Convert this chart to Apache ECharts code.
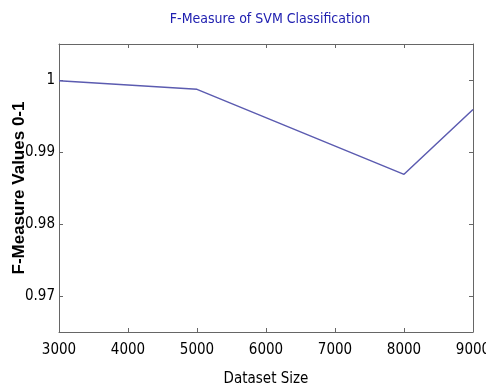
<!DOCTYPE html>
<html>
<head>
<meta charset="utf-8">
<script src="https://cdn.jsdelivr.net/npm/echarts@6/dist/echarts.min.js"></script>
<style>
    html, body { margin: 0; padding: 0; background: #fff; }
    #chart { width: 486px; height: 391px; }
</style>
</head>
<body>
<div id="chart"></div>
<script>
// values
var datasetSize = [3000, 5000, 8000, 9000];
var fMeasure = [0.9999, 0.9987, 0.9869, 0.9959];
var yTicks = [0.97, 0.98, 0.99, 1];

var narrow = '"Liberation Sans Narrow", "DejaVu Sans Condensed", "Arial Narrow", sans-serif';

function draw() {
    var myChart = echarts.init(document.getElementById('chart'));

    var boxLine = { show: true, lineStyle: { color: '#666', width: 1 } };
    var inTick = { show: true, inside: true, length: 4, lineStyle: { color: '#666' } };

    var option = {
        animation: false,
        title: {
            text: 'F-Measure of SVM Classification',
            left: 265,
            top: 7,
            textAlign: 'center',
            textStyle: {
                color: '#2020b0',
                fontFamily: narrow,
                fontSize: 14,
                fontWeight: 'normal'
            }
        },
        grid: { left: 59, right: 13, top: 44, bottom: 59, outerBoundsMode: 'none', containLabel: false },
        xAxis: [
            {
                type: 'value',
                position: 'bottom',
                min: 3000,
                max: 9000,
                interval: 1000,
                name: 'Dataset Size',
                nameLocation: 'middle',
                nameGap: 40,
                nameTextStyle: { color: '#000', fontFamily: narrow, fontSize: 15 },
                axisLine: boxLine,
                axisTick: inTick,
                splitLine: { show: false },
                axisLabel: {
                    color: '#000', fontFamily: narrow, fontSize: 15, margin: 11,
                    formatter: function (v) { return String(v); }
                }
            },
            {
                type: 'value',
                position: 'top',
                min: 3000,
                max: 9000,
                interval: 1000,
                axisLine: boxLine,
                axisTick: inTick,
                splitLine: { show: false },
                axisLabel: { show: false }
            }
        ],
        yAxis: [
            {
                type: 'value',
                position: 'left',
                min: 0.965,
                max: 1.005,
                name: 'F-Measure Values 0-1',
                nameLocation: 'middle',
                nameGap: 31,
                nameMoveOverlap: false,
                nameTextStyle: {
                    color: '#000',
                    fontFamily: '"Liberation Sans", Arial, sans-serif',
                    fontSize: 17,
                    fontWeight: 'bold'
                },
                axisLine: boxLine,
                axisTick: Object.assign({}, inTick, { customValues: yTicks }),
                splitLine: { show: false },
                axisLabel: {
                    color: '#000', fontFamily: narrow, fontSize: 15, margin: 4,
                    customValues: yTicks,
                    formatter: function (v) { return String(+v.toFixed(2)); }
                }
            },
            {
                type: 'value',
                position: 'right',
                min: 0.965,
                max: 1.005,
                axisLine: boxLine,
                axisTick: Object.assign({}, inTick, { customValues: yTicks }),
                splitLine: { show: false },
                axisLabel: { show: false, customValues: yTicks }
            }
        ],
        series: [
            {
                type: 'line',
                data: datasetSize.map(function (x, i) { return [x, fMeasure[i]]; }),
                symbol: 'none',
                lineStyle: { color: '#5b5bb0', width: 1.5 }
            }
        ]
    };

    myChart.setOption(option);
}

draw();
</script>
</body>
</html>
